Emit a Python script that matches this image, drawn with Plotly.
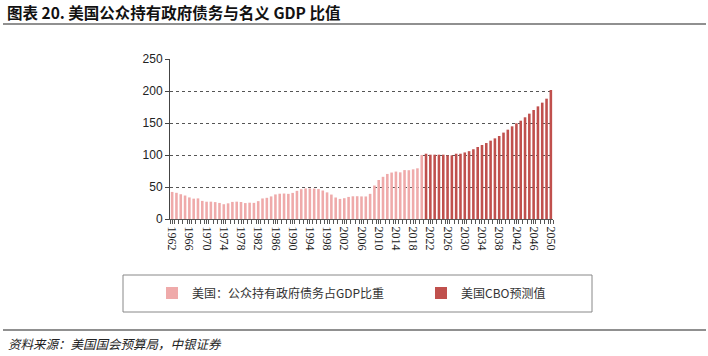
import plotly.graph_objects as go

hist_years = list(range(1962, 2021))
hist_values = [42.3, 40.9, 38.7, 36.7, 33.7, 31.8, 32.2, 28.3, 27.0, 27.1,
               26.4, 25.1, 23.1, 24.5, 26.7, 27.1, 26.6, 24.9, 25.5, 25.2,
               27.9, 32.1, 33.1, 35.3, 38.4, 39.5, 39.8, 39.3, 40.8, 44.0,
               46.6, 47.8, 47.7, 47.5, 46.8, 44.5, 41.6, 38.2, 33.6, 31.4,
               32.5, 34.5, 35.5, 35.6, 35.3, 35.2, 39.3, 52.3, 60.9, 65.9,
               70.4, 72.6, 74.1, 72.9, 76.4, 76.2, 77.6, 79.2, 100.1]
proj_years = list(range(2021, 2051))
proj_values = [102.0, 100.5, 100.5, 100.5, 100.5, 99.5, 99.5, 102.0, 102.0, 104.0,
               106.0, 109.0, 112.5, 115.6, 118.7, 122.4, 126.0, 129.7, 135.0, 139.6,
               144.8, 149.5, 153.6, 158.9, 164.6, 170.3, 176.0, 181.8, 188.0, 201.6]
tick_years = list(range(1962, 2051, 4))
y_ticks = [0, 50, 100, 150, 200, 250]

hist_name = "美国：公众持有政府债务占GDP比重"
proj_name = "美国CBO预测值"
title_text = "图表 20. 美国公众持有政府债务与名义 GDP 比值"
source_text = "资料来源：美国国会预算局，中银证券"

PINK = "#EFAAAA"
RED = "#C0504D"
CJK = "Noto Sans CJK SC"

fig = go.Figure()
fig.add_trace(go.Bar(x=hist_years, y=hist_values, name=hist_name, legend="legend",
                     marker=dict(color=PINK, line=dict(width=0)), width=0.6))
fig.add_trace(go.Bar(x=proj_years, y=proj_values, name=proj_name, legend="legend2",
                     marker=dict(color=RED, line=dict(width=0)), width=0.6))

L, R, T, B = 170, 155, 59, 137
W, H = 708, 356
pw, ph = W - L - R, H - T - B


def px(xp):
    return (xp - L) / pw


def py(yp):
    return (H - B - yp) / ph


leg_common = dict(orientation="h", xref="container", yref="container",
                  xanchor="left", yanchor="middle",
                  font=dict(family=CJK, size=12, color="#333333"),
                  itemwidth=30, bgcolor="rgba(0,0,0,0)")

fig.update_layout(
    width=W, height=H,
    margin=dict(l=L, r=R, t=T, b=B, autoexpand=False),
    paper_bgcolor="white", plot_bgcolor="white",
    barmode="overlay",
    showlegend=True,
    legend=dict(x=152 / W, y=1 - 293 / H, **leg_common),
    legend2=dict(x=421 / W, y=1 - 293 / H, **leg_common),
    xaxis=dict(range=[1961.5, 2050.5], tickmode="array", tickvals=tick_years,
               ticktext=[str(y) for y in tick_years], tickangle=90,
               tickfont=dict(family="Liberation Serif", size=12, color="#222222"),
               showline=True, linecolor="#555555", linewidth=1,
               ticks="outside", ticklen=4, tickcolor="#555555",
               minor=dict(tick0=1961.5, dtick=1, ticks="outside", ticklen=4,
                          tickcolor="#555555", showgrid=False),
               showgrid=False, zeroline=False, automargin=False),
    yaxis=dict(range=[0, 250], tickvals=y_ticks,
               tickfont=dict(family="Liberation Sans", size=12, color="#222222"),
               showline=True, linecolor="#444444", linewidth=1,
               ticks="outside", ticklen=4, tickcolor="#444444",
               showgrid=True, gridcolor="#555555", griddash="dot", gridwidth=1,
               zeroline=False, automargin=False),
    shapes=[
        dict(type="rect", xref="paper", yref="paper", x0=px(123), x1=px(592),
             y0=py(312), y1=py(275), line=dict(color="#888888", width=1)),
        dict(type="line", xref="paper", yref="paper", x0=px(3), x1=px(706),
             y0=py(24), y1=py(24), line=dict(color="#222222", width=1.2)),
        dict(type="line", xref="paper", yref="paper", x0=px(3), x1=px(706),
             y0=py(330), y1=py(330), line=dict(color="#222222", width=1.2)),
    ],
    annotations=[
        dict(text="<b>" + title_text + "</b>", xref="paper", yref="paper",
             x=px(5), y=py(12), xanchor="left", yanchor="middle", showarrow=False,
             font=dict(family=CJK, size=15.5, color="#111111")),
        dict(text="<i>" + source_text + "</i>", xref="paper", yref="paper",
             x=px(6), y=py(343), xanchor="left", yanchor="middle", showarrow=False,
             font=dict(family=CJK, size=12.5, color="#222222")),
    ],
)

fig.write_html("out.html", config={"displayModeBar": False},
               post_script="document.body.style.margin='0';document.body.style.padding='0';")
